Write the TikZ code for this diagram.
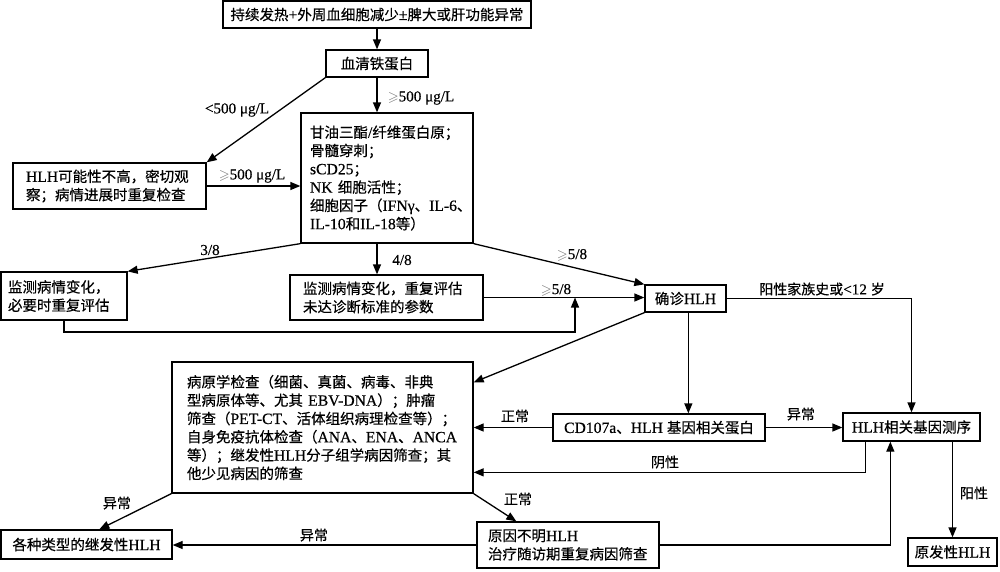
\documentclass[tikz,border=0pt]{standalone}
\usepackage{fontspec}
\usepackage{amssymb}
\setmainfont[Scale=1.08,FakeBold=0.4]{Liberation Serif}
\newfontfamily\cjkfont[FakeBold=0.4]{Noto Sans CJK SC}
\newfontfamily\latfont[Scale=1.08,FakeBold=0.4]{Liberation Serif}
\usetikzlibrary{arrows.meta,calc}
\hyphenpenalty=10000
\exhyphenpenalty=10000
\newcount\mycnt
\newXeTeXintercharclass\cjkclass
\def\setclassrange#1#2#3{\mycnt=#1\relax\loop\XeTeXcharclass\mycnt=#3\relax\ifnum\mycnt<#2\advance\mycnt by 1\repeat}
\setclassrange{0}{"2FFF}{0}
\setclassrange{"3000}{"303F}{\cjkclass}
\setclassrange{"4E00}{"9FFF}{\cjkclass}
\setclassrange{"FF00}{"FFEF}{\cjkclass}
\XeTeXinterchartoks 0 \cjkclass = {\cjkfont}
\XeTeXinterchartoks 4095 \cjkclass = {\cjkfont}
\XeTeXinterchartoks \cjkclass 0 = {\latfont}
\XeTeXinterchartoks \cjkclass 4095 = {\latfont}
\XeTeXinterchartokenstate=1
\newcommand\gesym{\textcolor{black!55}{$\geqslant$}}
\tikzset{
  bx/.style={draw, line width=1.3pt, inner xsep=0pt, inner ysep=0pt, align=center},
  lbx/.style={draw, line width=1.3pt, inner ysep=0pt, align=left},
  lab/.style={inner sep=0pt, font=\fontsize{14}{16}\selectfont},
  ar/.style={-{Triangle[length=10pt,width=8pt]}, line width=1.3pt},
}
\begin{document}
\begin{tikzpicture}[x=1pt,y=-1pt,font=\fontsize{14.5}{18.3}\selectfont]
\useasboundingbox (0,0) rectangle (1000,571);
% boxes
\node[bx, minimum width=308pt, minimum height=27pt] (top) at (377,14.5) {持续发热+外周血细胞减少±脾大或肝功能异常};
\node[bx, minimum width=102pt, minimum height=27pt] (sf) at (377,63.5) {血清铁蛋白};
\node[lbx, inner xsep=13pt, text width=167pt, minimum height=46pt] (low) at (109.5,186) {HLH可能性不高，密切观\\察；病情进展时重复检查};
\node[lbx, inner xsep=9pt, text width=154pt, minimum height=130pt] (central) at (387,178) {甘油三酯/纤维蛋白原；\\骨髓穿刺；\\sCD25；\\NK 细胞活性；\\细胞因子（IFNγ、IL-6、\\IL-10和IL-18等）};
\node[lbx, inner xsep=7pt, text width=112pt, minimum height=48pt] (mon1) at (64,296) {监测病情变化，\\必要时重复评估};
\node[lbx, inner xsep=13pt, text width=167pt, minimum height=45pt] (mon2) at (386.5,297.5) {监测病情变化，重复评估\\未达诊断标准的参数};
\node[bx, minimum width=81pt, minimum height=27pt] (diag) at (685.5,298.5) {确诊HLH};
\node[lbx, inner xsep=15pt, text width=271pt, minimum height=131pt] (big) at (322.5,427.5) {病原学检查（细菌、真菌、病毒、非典\\型病原体等、尤其 EBV-DNA）；肿瘤\\筛查（PET-CT、活体组织病理检查等）；\\自身免疫抗体检查（ANA、ENA、ANCA\\等）；继发性HLH分子组学病因筛查；其\\他少见病因的筛查};
\node[bx, minimum width=212pt, minimum height=27pt] (cd) at (659,427.5) {CD107a、HLH 基因相关蛋白};
\node[bx, minimum width=137pt, minimum height=28pt] (seq) at (911.5,427) {HLH相关基因测序};
\node[bx, minimum width=171pt, minimum height=29pt] (sec) at (86.5,544.5) {各种类型的继发性HLH};
\node[lbx, inner xsep=11pt, text width=160pt, minimum height=46pt] (unk) at (568,545) {原因不明HLH\\治疗随访期重复病因筛查};
\node[bx, minimum width=89pt, minimum height=28pt] (prim) at (952.5,552) {原发性HLH};
% connectors
\draw[ar] (top.south) -- (sf.north);
\draw[ar] (sf.south) -- (sf.south |- central.north);
\draw[ar] (sf.south west) -- (low.north east);
\draw[ar] (low.east) -- (low.east -| central.west);
\draw[ar] (central.south west) -- (mon1.north east);
\draw[ar] (sf.south |- central.south) -- (sf.south |- mon2.north);
\draw[ar] (central.south east) -- (diag.north west);
\draw[ar] (mon2.east) -- (mon2.east -| diag.west);
\coordinate (j) at (575,332);
\draw[ar] (mon1.south) |- (j) -- (j |- mon2.east);
\draw[ar] (diag.south west) -- ($(big.north east)+(0,21)$);
\coordinate (d1) at ($(diag.south west)+(44,0)$);
\draw[ar] (d1) -- (d1 |- cd.north);
\draw[ar] (diag.east) -| (seq.north);
\draw[ar] (cd.west) -- (cd.west -| big.east);
\draw[ar] (cd.east) -- (cd.east -| seq.west);
\coordinate (s1) at ($(seq.south west)+(23,0)$);
\coordinate (b1) at ($(big.north east)+(0,111)$);
\draw[ar] (s1) |- (b1);
\draw[ar] (seq.south -| prim.north) -- (prim.north);
\coordinate (s2) at ($(seq.south west)+(48,0)$);
\draw[ar] (unk.east) -| (s2);
\draw[ar] (big.south west) -- ($(sec.north west)+(99,0)$);
\draw[ar] (big.south east) -- ($(unk.north west)+(40,0)$);
\draw[ar] (unk.west) -- (unk.west -| sec.east);
% labels
\node[lab] (l1) at (421,98) {\gesym 500 μg/L};
\node[lab] (l2) at (237,110) {<500 μg/L};
\node[lab] (l3) at (252,176) {\gesym 500 μg/L};
\node[lab] (l4) at (210,250) {3/8};
\node[lab] (l5) at (402,260) {4/8};
\node[lab] (l6) at (572,255) {\gesym 5/8};
\node[lab] (l7) at (556,290) {\gesym 5/8};
\node[lab] (l8) at (822,289) {阳性家族史或<12 岁};
\node[lab] (l9) at (515,416) {正常};
\node[lab] (l10) at (801,414) {异常};
\node[lab] (l11) at (665,462) {阴性};
\node[lab] (l12) at (974,493) {阳性};
\node[lab] (l13) at (117,503) {异常};
\node[lab] (l14) at (518,499) {正常};
\node[lab] (l15) at (314,535) {异常};
\end{tikzpicture}
\end{document}
